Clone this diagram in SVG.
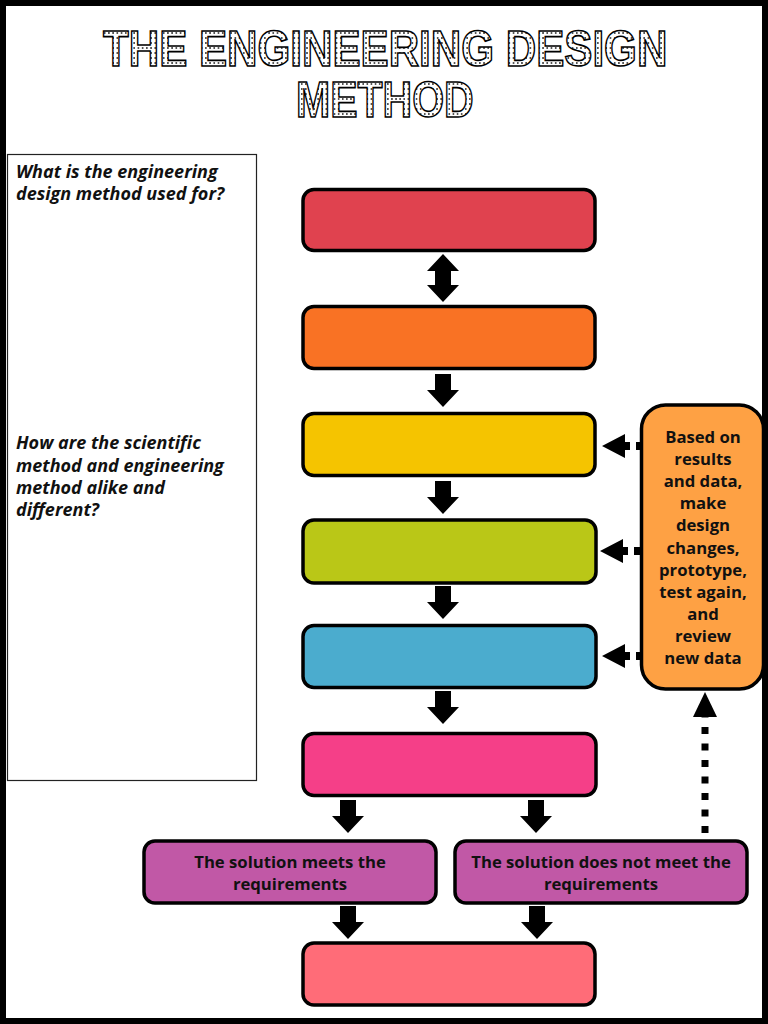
<svg xmlns="http://www.w3.org/2000/svg" width="768" height="1024" viewBox="0 0 768 1024">
<style>
.box{stroke:#000;stroke-width:3.5}
.t{font-family:"Open Sans","Liberation Sans",sans-serif;font-weight:700;font-size:16.700px;fill:#111;text-anchor:middle}
.q{font-family:"Open Sans","Liberation Sans",sans-serif;font-weight:700;font-style:italic;font-size:18px;fill:#111}
.title{font-family:"Liberation Sans",sans-serif;font-weight:700;font-size:50px;fill:url(#dots);stroke:#000;stroke-width:1.600}
</style>
<defs>
<pattern id="dots" width="5" height="5" patternUnits="userSpaceOnUse"><rect width="5" height="5" fill="#fff"/><rect x="1" y="1" width="2" height="2" fill="#555"/></pattern>
<path id="down" d="M-8 0H8V16H16L0 33L-16 16H-8Z" fill="#000"/>
</defs>
<rect width="768" height="1024" fill="#fff"/>
<g id="frame"><path d="M0 0H768V1024H0ZM6 6V1018H762V6Z" fill="#000" fill-rule="evenodd"/></g>
<g id="title">
<text class="title" transform="translate(103 66) scale(.843 1)">THE ENGINEERING DESIGN</text>
<text class="title" transform="translate(296 117) scale(.82 1)">METHOD</text>
</g>
<g id="questions">
<rect x="7.5" y="154.500" width="249" height="626" fill="#fff" stroke="#222" stroke-width="1.200"/>
<text class="q" x="16" y="178">What is the engineering</text>
<text class="q" x="16" y="200">design method used for?</text>
<text class="q" x="16" y="449">How are the scientific</text>
<text class="q" x="16" y="472">method and engineering</text>
<text class="q" x="16" y="494">method alike and</text>
<text class="q" x="16" y="516">different?</text>
</g>
<g id="connectors">
<path d="M443 254L459 271H451V285H459L443 302L427 285H435V271H427Z" fill="#000"/>
<use href="#down" x="443" y="374"/>
<use href="#down" x="443" y="481"/>
<use href="#down" x="443" y="586"/>
<use href="#down" x="443" y="691"/>
<use href="#down" x="348" y="800"/>
<use href="#down" x="536" y="800"/>
<use href="#down" x="348" y="906"/>
<use href="#down" x="537" y="906"/>
<g fill="#000">
<path d="M602 446L625 434V442H630V450H625V458Z"/><rect x="636" y="442" width="6" height="8"/>
<path d="M600 551L623 539V547H628V555H623V563Z"/><rect x="634" y="547" width="8" height="8"/>
<path d="M602 656L625 644V652H630V660H625V668Z"/><rect x="636" y="652" width="6" height="8"/>
<path d="M705 692L717 717H693Z"/>
</g>
<path d="M705 833V717" fill="none" stroke="#000" stroke-width="7" stroke-dasharray="7 9.500"/>
</g>
<g id="n1"><rect class="box" x="303" y="189.500" width="292" height="61" rx="11" fill="#e0424f"/></g>
<g id="n2"><rect class="box" x="303" y="306.500" width="292" height="62" rx="11" fill="#f97224"/></g>
<g id="n3"><rect class="box" x="303" y="413.500" width="292" height="62" rx="11" fill="#f5c400"/></g>
<g id="n4"><rect class="box" x="303" y="520" width="293" height="63" rx="11" fill="#bac717"/></g>
<g id="n5"><rect class="box" x="303" y="625.500" width="293" height="62" rx="11" fill="#4bacce"/></g>
<g id="n6"><rect class="box" x="303" y="733.500" width="293" height="62" rx="11" fill="#f53f88"/></g>
<g id="n7"><rect class="box" x="144" y="841" width="292" height="62" rx="11" fill="#c158a6"/>
<text class="t" x="290" y="868">The solution meets the</text>
<text class="t" x="290" y="890">requirements</text></g>
<g id="n8"><rect class="box" x="455" y="841" width="292" height="62" rx="11" fill="#c158a6"/>
<text class="t" x="601" y="868">The solution does not meet the</text>
<text class="t" x="601" y="890">requirements</text></g>
<g id="n9"><rect class="box" x="303" y="943" width="292" height="62" rx="11" fill="#ff6c78"/></g>
<g id="n10"><rect class="box" x="641.500" y="405" width="122" height="284" rx="24" fill="#fea144"/>
<text class="t" x="703" y="443">Based on</text>
<text class="t" x="703" y="465">results</text>
<text class="t" x="703" y="487">and data,</text>
<text class="t" x="703" y="509">make</text>
<text class="t" x="703" y="531">design</text>
<text class="t" x="703" y="554">changes,</text>
<text class="t" x="703" y="576">prototype,</text>
<text class="t" x="703" y="598">test again,</text>
<text class="t" x="703" y="620">and</text>
<text class="t" x="703" y="642">review</text>
<text class="t" x="703" y="664">new data</text>
</g>
</svg>
